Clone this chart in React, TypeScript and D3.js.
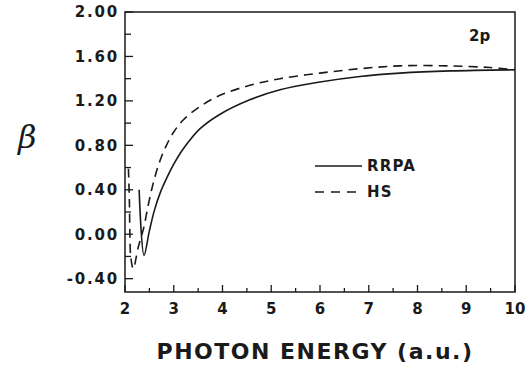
import React, { useRef, useEffect } from "react";
import * as d3 from "d3";

// photon energy (a.u.) vs beta
const rrpaX = [2.29, 2.39, 2.5, 2.6, 2.72, 2.85, 3.0, 3.15, 3.3, 3.54, 3.95, 4.56, 5.18, 6.0, 6.82, 7.64, 8.67, 10.0];
const rrpaY = [0.40, -0.19, 0.03, 0.21, 0.37, 0.50, 0.63, 0.74, 0.83, 0.95, 1.08, 1.21, 1.30, 1.37, 1.42, 1.45, 1.47, 1.48];

const hsX = [2.07, 2.09, 2.1, 2.12, 2.17, 2.27, 2.38, 2.48, 2.58, 2.7, 2.85, 3.0, 3.2, 3.54, 3.95, 4.56, 5.18, 6.0, 6.82, 7.64, 8.67, 9.49, 10.0];
const hsY = [0.59, 0.30, 0.0, -0.21, -0.31, -0.12, 0.05, 0.27, 0.46, 0.64, 0.80, 0.92, 1.03, 1.15, 1.25, 1.34, 1.40, 1.45, 1.49, 1.515, 1.515, 1.50, 1.48];

const xTicks = [2, 3, 4, 5, 6, 7, 8, 9, 10];
const yTicks = [-0.4, 0, 0.4, 0.8, 1.2, 1.6, 2.0];

const W = 531;
const H = 371;
const margin = { top: 12, right: 16, bottom: 80, left: 125 };

const FONT = "'DejaVu Sans', Verdana, sans-serif";

export default function App() {
  const svgRef = useRef<SVGSVGElement | null>(null);

  useEffect(() => {
    const svg = d3.select(svgRef.current);
    svg.selectAll("*").remove();

    const x = d3.scaleLinear().domain([2, 10]).range([margin.left, W - margin.right]);
    const y = d3.scaleLinear().domain([-0.52, 2.0]).range([H - margin.bottom + 1, margin.top]);

    const ink = "#1a1a1a";

    // frame
    svg.append("rect")
      .attr("x", x(2)).attr("y", y(2.0))
      .attr("width", x(10) - x(2)).attr("height", y(-0.52) - y(2.0))
      .attr("fill", "none").attr("stroke", ink).attr("stroke-width", 1.5);

    // y ticks (inward), every 0.2
    const yAll = d3.range(-0.4, 2.0001, 0.2);
    svg.append("g").selectAll("line")
      .data(yAll)
      .enter().append("line")
      .attr("x1", x(2)).attr("x2", (d, i) => x(2) + (i % 2 === 0 ? 8 : 6))
      .attr("y1", d => y(d)).attr("y2", d => y(d))
      .attr("stroke", ink).attr("stroke-width", 1.3);

    // x ticks (inward), every 0.5
    const xAll = d3.range(2, 10.0001, 0.5);
    svg.append("g").selectAll("line")
      .data(xAll)
      .enter().append("line")
      .attr("x1", d => x(d)).attr("x2", d => x(d))
      .attr("y1", y(-0.52)).attr("y2", (d, i) => y(-0.52) - (i % 2 === 0 ? 7 : 4))
      .attr("stroke", ink).attr("stroke-width", 1.3);

    // y labels
    svg.append("g").selectAll("text")
      .data(yTicks)
      .enter().append("text")
      .attr("x", 119).attr("y", d => y(d))
      .attr("dy", "0.36em")
      .attr("text-anchor", "end")
      .style("font-family", FONT).style("font-weight", "bold")
      .style("font-size", "15px").style("letter-spacing", "1.8px")
      .attr("fill", ink)
      .text(d => d.toFixed(2));

    // x labels
    svg.append("g").selectAll("text")
      .data(xTicks)
      .enter().append("text")
      .attr("x", d => x(d)).attr("y", 314)
      .attr("text-anchor", "middle")
      .style("font-family", FONT).style("font-weight", "bold")
      .style("font-size", "15px")
      .attr("fill", ink)
      .text(d => d);

    // axis titles
    svg.append("text")
      .attr("x", 315).attr("y", 359)
      .attr("text-anchor", "middle")
      .style("font-family", FONT).style("font-weight", "bold")
      .style("font-size", "22px").style("letter-spacing", "1.5px")
      .attr("fill", ink)
      .text("PHOTON ENERGY (a.u.)");

    svg.append("text")
      .attr("x", 18).attr("y", 148)
      .style("font-family", "'DejaVu Serif', 'Liberation Serif', serif")
      .style("font-style", "italic")
      .style("font-size", "32px")
      .attr("fill", ink)
      .text("β");

    svg.append("text")
      .attr("x", 469).attr("y", 41)
      .style("font-family", FONT).style("font-weight", "bold")
      .style("font-size", "15px")
      .attr("fill", ink)
      .text("2p");

    // curves
    const line = d3.line<[number, number]>()
      .x(d => x(d[0]))
      .y(d => y(d[1]))
      .curve(d3.curveCatmullRom.alpha(0.5));

    const rrpa = rrpaX.map((v, i) => [v, rrpaY[i]] as [number, number]);
    const hs = hsX.map((v, i) => [v, hsY[i]] as [number, number]);

    svg.append("path")
      .datum(rrpa)
      .attr("d", line)
      .attr("fill", "none").attr("stroke", ink).attr("stroke-width", 1.6);

    svg.append("path")
      .datum(hs)
      .attr("d", line)
      .attr("fill", "none").attr("stroke", ink).attr("stroke-width", 1.6)
      .attr("stroke-dasharray", "9,6");

    // legend
    const legend = [
      { label: "RRPA", dash: null, yy: 166 },
      { label: "HS", dash: "9,7", yy: 192 },
    ];
    legend.forEach(l => {
      svg.append("line")
        .attr("x1", 315).attr("x2", 362)
        .attr("y1", l.yy).attr("y2", l.yy)
        .attr("stroke", ink).attr("stroke-width", 1.6)
        .attr("stroke-dasharray", l.dash);
      svg.append("text")
        .attr("x", 367).attr("y", l.yy)
        .attr("dy", "0.36em")
        .style("font-family", FONT).style("font-weight", "bold")
        .style("font-size", "15px").style("letter-spacing", "1.2px")
        .attr("fill", ink)
        .text(l.label);
    });
  }, []);

  return (
    <div style={{ position: "absolute", left: 0, top: 0 }}>
      <svg ref={svgRef} width={W} height={H} style={{ display: "block", background: "#fff" }}></svg>
    </div>
  );
}
